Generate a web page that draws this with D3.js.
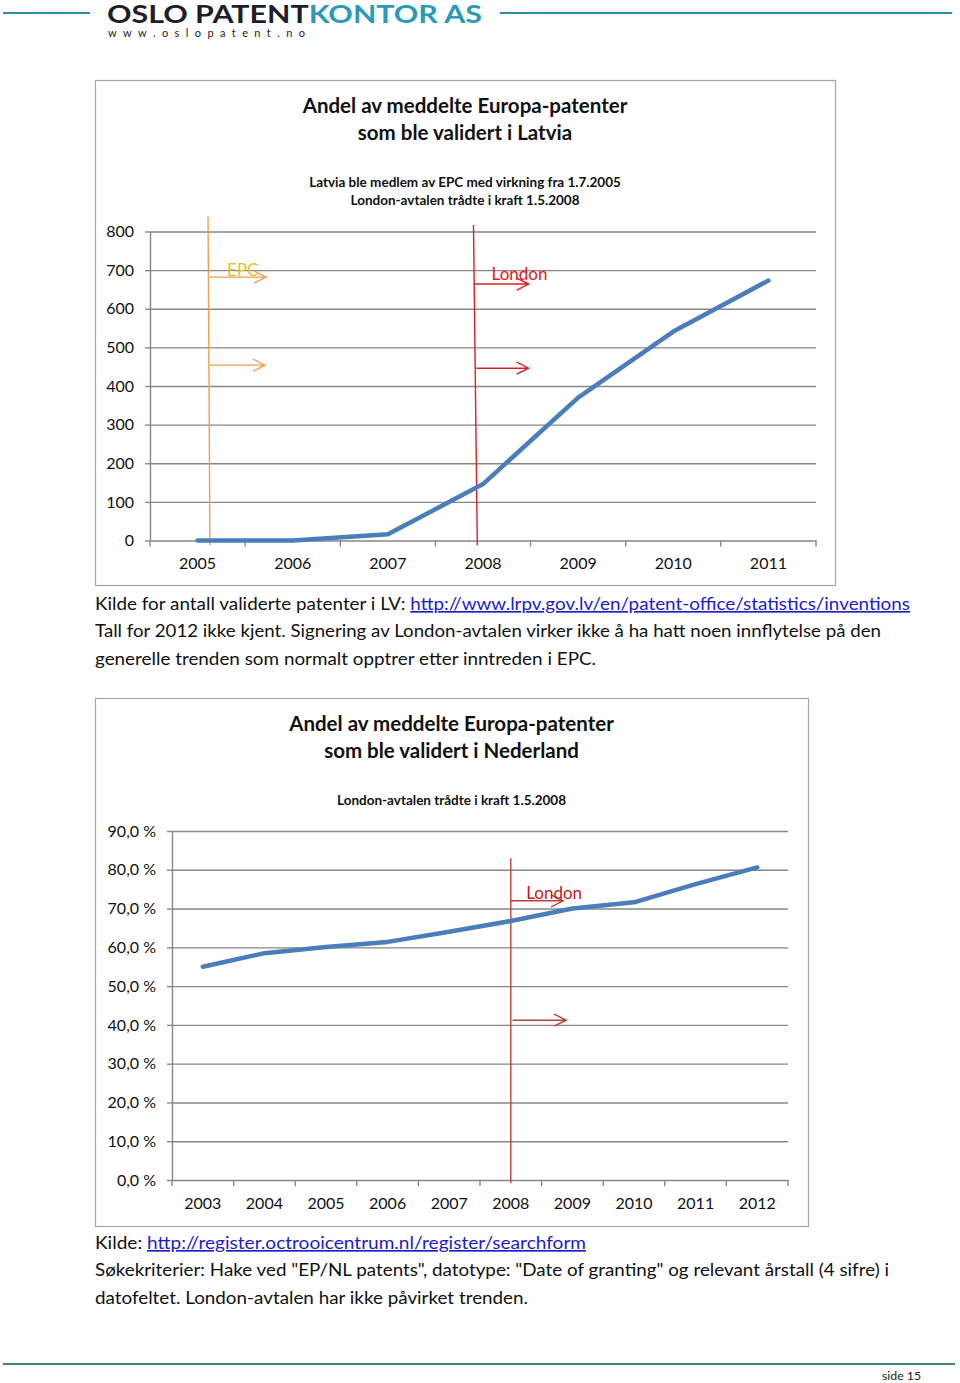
<!DOCTYPE html>
<html><head><meta charset="utf-8">
<script src="https://cdn.jsdelivr.net/npm/d3@7/dist/d3.min.js"></script>
<style>
body{margin:0;background:#fff;}
svg text{font-family:Lato,"Noto Sans",sans-serif;}
</style></head><body>
<svg id="page" width="960" height="1383"></svg>
<script>
// ---------- DATA ----------
const lvYears = ["2005","2006","2007","2008","2009","2010","2011"];
const lvValues = [0, 0, 16, 146, 370, 541, 673];
const lvTicks = [0,100,200,300,400,500,600,700,800];
const lvTitle = ["Andel av meddelte Europa-patenter","som ble validert i Latvia"];
const lvSubtitle = ["Latvia ble medlem av EPC med virkning fra 1.7.2005","London-avtalen trådte i kraft 1.5.2008"];

const nlYears = ["2003","2004","2005","2006","2007","2008","2009","2010","2011","2012"];
const nlValues = [55.0, 58.5, 60.1, 61.4, 64.0, 66.8, 70.0, 71.6, 76.3, 80.6];
const nlTicks = [0,10,20,30,40,50,60,70,80,90];
const nlTitle = ["Andel av meddelte Europa-patenter","som ble validert i Nederland"];
const nlSubtitle = ["London-avtalen trådte i kraft 1.5.2008"];

// hand-drawn markers, in data units (year, value)
const lvMarkers = [
  {label:"EPC", year0:2005.11, year1:2005.13, v0:838, v1:-12, lineColor:"#f0a050", textColor:"#e3c030",
   labelYear:2005.31, labelV:685,
   arrows:[{v:682, from:2005.13, to:2005.72},{v:454, from:2005.13, to:2005.71}]},
  {label:"London", year0:2007.90, year1:2007.94, v0:817, v1:-12, lineColor:"#e02020", textColor:"#e02020",
   labelYear:2008.09, labelV:674,
   arrows:[{v:664, from:2007.90, to:2008.48},{v:446, from:2007.93, to:2008.48}]}
];
const nlMarkers = [
  {label:"London", year0:2008.0, year1:2008.0, v0:83, v1:-0.8, lineColor:"#b8403c", textColor:"#c81818",
   labelYear:2008.25, labelV:72.5,
   arrows:[{v:72.0, from:2008.0, to:2008.85},{v:41.2, from:2008.03, to:2008.90}]}
];

const lvNote = [
  {plain:"Kilde for antall validerte patenter i LV: ", link:"http://www.lrpv.gov.lv/en/patent-office/statistics/inventions", w:815},
  {plain:"Tall for 2012 ikke kjent. Signering av London-avtalen virker ikke å ha hatt noen innflytelse på den", link:"", w:786},
  {plain:"generelle trenden som normalt opptrer etter inntreden i EPC.", link:"", w:501}
];
const nlNote = [
  {plain:"Kilde: ", link:"http://register.octrooicentrum.nl/register/searchform", w:491},
  {plain:"Søkekriterier: Hake ved \"EP/NL patents\", datotype: \"Date of granting\" og relevant årstall (4 sifre) i", link:"", w:794},
  {plain:"datofeltet. London-avtalen har ikke påvirket trenden.", link:"", w:433}
];

// ---------- DRAW ----------
const svg = d3.select("#page");
const GRID = "#878787", LINE = "#4a7ebb";

// header
svg.append("line").attr("x1",3).attr("x2",90).attr("y1",13).attr("y2",13).attr("stroke","#2a90a8").attr("stroke-width",2);
svg.append("line").attr("x1",500).attr("x2",952).attr("y1",13).attr("y2",13).attr("stroke","#2a90a8").attr("stroke-width",2);
const logo = svg.append("text").attr("x",107).attr("y",22.5).attr("font-size",24).attr("font-weight",700)
  .attr("font-family","DejaVu Sans")
  .attr("textLength",375).attr("lengthAdjust","spacingAndGlyphs");
logo.append("tspan").attr("fill","#1d1d2b").text("OSLO PATENT");
logo.append("tspan").attr("fill","#2a9ab6").text("KONTOR AS");
svg.append("text").attr("x",108).attr("y",37).attr("font-size",11).attr("fill","#222")
  .attr("textLength",197).attr("lengthAdjust","spacing").text("www.oslopatent.no");

// footer
svg.append("line").attr("x1",3).attr("x2",955).attr("y1",1364).attr("y2",1364).attr("stroke","#3f8080").attr("stroke-width",2);
svg.append("text").attr("x",882).attr("y",1379.5).attr("font-size",12).attr("fill","#222")
  .attr("textLength",39).attr("lengthAdjust","spacingAndGlyphs").text("side 15");

function chart(cfg){
  const g = svg.append("g");
  g.append("rect").attr("x",cfg.box[0]+0.5).attr("y",cfg.box[1]+0.5).attr("width",cfg.box[2]).attr("height",cfg.box[3])
    .attr("fill","#fff").attr("stroke","#a6a6a6").attr("stroke-width",1.2);
  const cx = cfg.box[0] + cfg.box[2]/2;
  cfg.title.forEach((t,i)=>{
    g.append("text").attr("x",cx).attr("y",cfg.titleY[i]).attr("text-anchor","middle")
      .attr("font-size",20.5).attr("font-weight",700).attr("fill","#111").text(t);
  });
  cfg.subtitle.forEach((t,i)=>{
    g.append("text").attr("x",cx).attr("y",cfg.subY[i]).attr("text-anchor","middle")
      .attr("font-size",13.5).attr("font-weight",700).attr("fill","#111").text(t);
  });
  const x = d3.scaleBand().domain(cfg.years).range([cfg.x0,cfg.x1]).padding(0);
  const y = d3.scaleLinear().domain([0,d3.max(cfg.ticks)]).range([cfg.y0,cfg.y1]);
  const bw = x.bandwidth();
  const xYear = d3.scaleLinear().domain([+cfg.years[0], +cfg.years[cfg.years.length-1]])
    .range([x(cfg.years[0])+bw/2, x(cfg.years[cfg.years.length-1])+bw/2]);

  // gridlines
  const grid = g.append("g").attr("transform",`translate(${cfg.x0},0)`)
    .call(d3.axisLeft(y).tickValues(cfg.ticks.slice(1)).tickSize(-(cfg.x1-cfg.x0)).tickFormat(""));
  grid.select(".domain").remove();
  grid.selectAll("line").attr("stroke",GRID).attr("stroke-width",1.4);
  // y axis
  const ya = g.append("g").attr("transform",`translate(${cfg.x0},0)`)
    .call(d3.axisLeft(y).tickValues(cfg.ticks).tickSize(5).tickSizeOuter(0).tickPadding(11).tickFormat(cfg.fmt));
  ya.select(".domain").attr("stroke",GRID).attr("stroke-width",1.4);
  ya.selectAll("line").attr("stroke",GRID).attr("stroke-width",1.4);
  ya.selectAll("text").attr("font-size",16).attr("fill","#111").attr("font-family","Lato");
  // x axis
  const xa = g.append("g").attr("transform",`translate(0,${cfg.y0})`)
    .call(d3.axisBottom(x).tickSize(0).tickPadding(cfg.xPad));
  xa.select(".domain").attr("stroke",GRID).attr("stroke-width",1.4);
  xa.selectAll("text").attr("font-size",16).attr("fill","#111").attr("font-family","Lato");
  const edges = cfg.years.map(d=>x(d)).concat([cfg.x1]);
  g.append("g").selectAll("line").data(edges).join("line")
    .attr("x1",d=>d).attr("x2",d=>d).attr("y1",cfg.y0).attr("y2",cfg.y0+6)
    .attr("stroke",GRID).attr("stroke-width",1.4);

  // markers (drawn under series line)
  cfg.markers.forEach(m=>{
    g.append("line").attr("x1",xYear(m.year0)).attr("y1",y(m.v0)).attr("x2",xYear(m.year1)).attr("y2",y(m.v1))
      .attr("stroke",m.lineColor).attr("stroke-width",1.4);
    m.arrows.forEach(a=>{
      const xa0 = xYear(a.from), xa1 = xYear(a.to), ya0 = y(a.v);
      g.append("path").attr("d",`M${xa0},${ya0}L${xa1},${ya0}M${xa1-12},${ya0-6}L${xa1},${ya0}L${xa1-12},${ya0+6}`)
        .attr("fill","none").attr("stroke",m.lineColor).attr("stroke-width",1.4);
    });
    g.append("text").attr("x",xYear(m.labelYear)).attr("y",y(m.labelV)).attr("font-size",17)
      .attr("fill",m.textColor).text(m.label);
  });

  // series
  g.append("path").datum(cfg.values)
    .attr("d",d3.line().x((d,i)=>x(cfg.years[i])+bw/2).y(d=>y(d)))
    .attr("fill","none").attr("stroke",LINE).attr("stroke-width",4.5).attr("stroke-linejoin","round").attr("stroke-linecap","round");
}

chart({box:[95,80,740,505], title:lvTitle, titleY:[113,140], subtitle:lvSubtitle, subY:[187,205],
  years:lvYears, values:lvValues, ticks:lvTicks, x0:150, x1:816, y0:540.5, y1:231.5, xPad:17,
  fmt:d=>d, markers:lvMarkers});
chart({box:[95,698,713,528], title:nlTitle, titleY:[731,758], subtitle:nlSubtitle, subY:[805],
  years:nlYears, values:nlValues, ticks:nlTicks, x0:172, x1:788, y0:1180, y1:831, xPad:18,
  fmt:d=>d3.format(".1f")(d).replace(".",",")+" %", markers:nlMarkers});

function note(lines, y0){
  lines.forEach((l,i)=>{
    const t = svg.append("text").attr("x",95).attr("y",y0+i*27.3).attr("font-size",16.5).attr("fill","#111")
      .attr("textLength",l.w).attr("lengthAdjust","spacingAndGlyphs");
    t.append("tspan").text(l.plain);
    if(l.link) t.append("tspan").attr("fill","#1c1ccc").attr("text-decoration","underline").text(l.link);
  });
}
note(lvNote, 610);
note(nlNote, 1249);
</script>
</body></html>
